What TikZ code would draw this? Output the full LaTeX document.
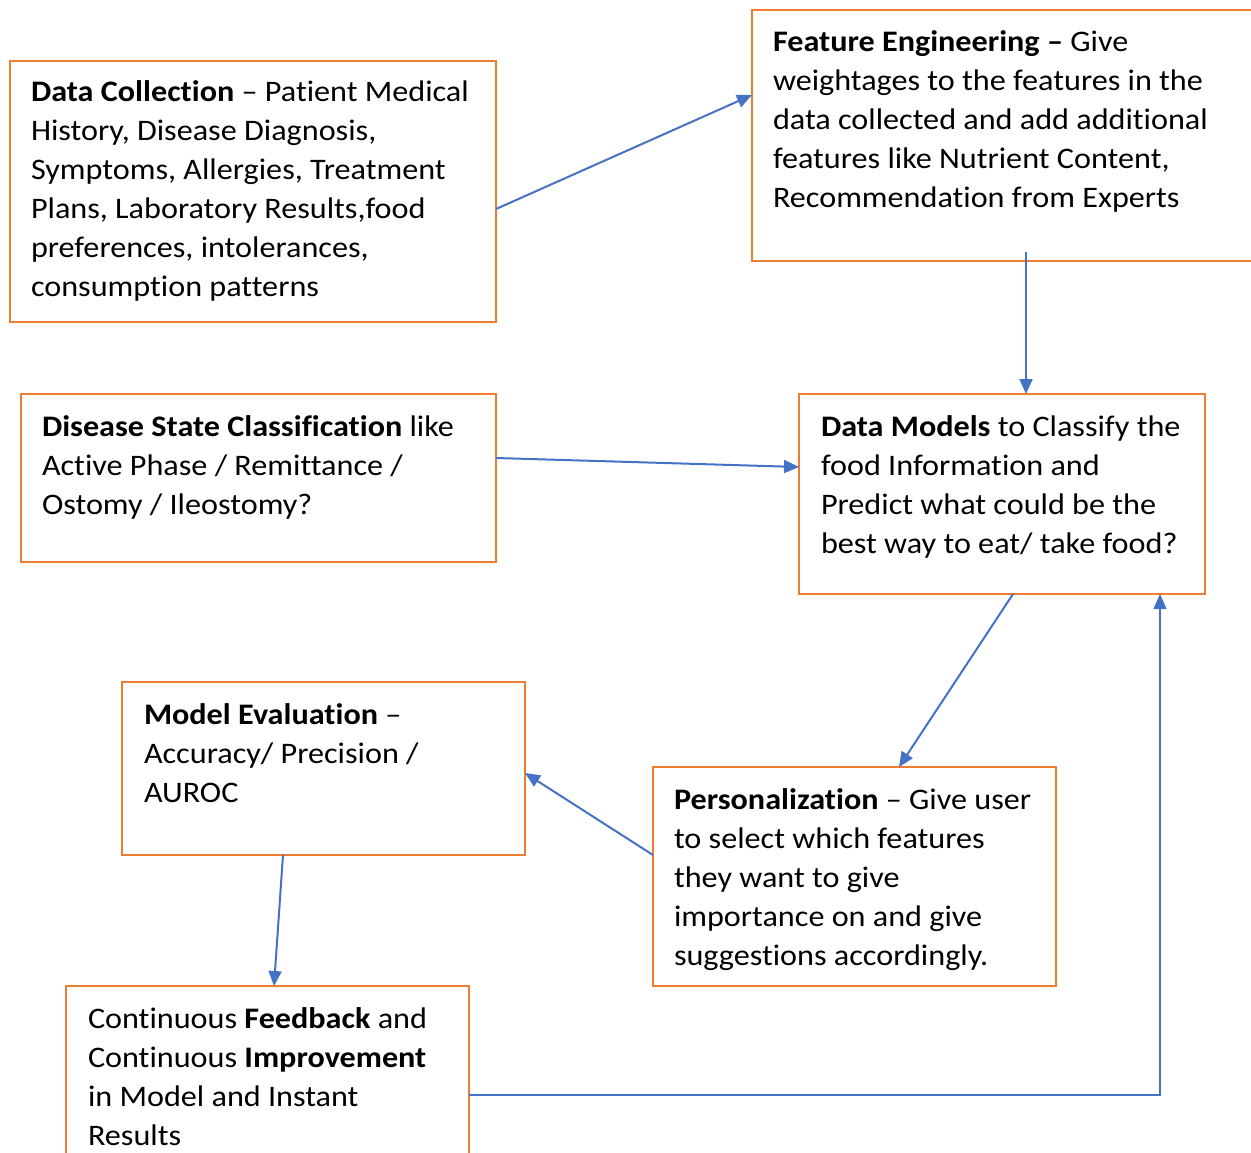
\documentclass[tikz,border=0pt]{standalone}
\usepackage{fontspec}
\setmainfont{Carlito}[FakeStretch=1.08,Ligatures=NoCommon]
\usetikzlibrary{arrows.meta}
\definecolor{boxorange}{HTML}{ED7D31}
\definecolor{arrblue}{HTML}{4472C4}
\newcommand{\mylines}[1]{\vtop{\baselineskip=39pt\lineskiplimit=-100pt\halign{##\hfil\cr#1\crcr}}}
\tikzset{
  flowbox/.style={draw=boxorange, line width=2pt, rectangle, inner sep=0pt, outer sep=0pt, anchor=north west, fill=white},
  boxtext/.style={anchor=base west, inner sep=0pt, outer sep=0pt, font=\fontsize{29.8}{39}\selectfont},
  flowarrow/.style={draw=arrblue, line width=2pt, -{Triangle[length=15pt,width=13pt]}},
  thinarrow/.style={draw=arrblue, line width=1.2pt, -{Triangle[length=15pt,width=13pt]}}
}
\begin{document}
\begin{tikzpicture}[x=1pt,y=-1pt]
\useasboundingbox (0,0) rectangle (1251,1153);
\clip (0,0) rectangle (1251,1153);
% boxes
\node[flowbox, minimum width=486pt, minimum height=261pt] (dc) at (10,61) {};
\node[flowbox, minimum width=520pt, minimum height=251pt] (fe) at (752,10) {};
\node[flowbox, minimum width=475pt, minimum height=168pt] (ds) at (21,394) {};
\node[flowbox, minimum width=406pt, minimum height=200pt] (dm) at (799,394) {};
\node[flowbox, minimum width=403pt, minimum height=173pt] (me) at (122,682) {};
\node[flowbox, minimum width=403pt, minimum height=219pt] (pe) at (653,767) {};
\node[flowbox, minimum width=403pt, minimum height=200pt] (cf) at (66,986) {};
% texts
\node[boxtext] (tdc) at (31,102) {\mylines{\textbf{Data Collection} – Patient Medical\cr History, Disease Diagnosis,\cr Symptoms, Allergies, Treatment\cr Plans, Laboratory Results,food\cr preferences, intolerances,\cr consumption patterns}};
\node[boxtext] (tfe) at (773,52) {\mylines{\textbf{Feature Engineering –} Give\cr weightages to the features in the\cr data collected and add additional\cr features like Nutrient Content,\cr Recommendation from Experts}};
\node[boxtext] (tds) at (42,436) {\mylines{\textbf{Disease State Classification} like\cr Active Phase / Remittance /\cr Ostomy / Ileostomy?}};
\node[boxtext] (tdm) at (821,436) {\mylines{\textbf{Data Models} to Classify the\cr food Information and\cr Predict what could be the\cr best way to eat/ take food?}};
\node[boxtext] (tme) at (144,724) {\mylines{\textbf{Model Evaluation} –\cr Accuracy/ Precision /\cr AUROC}};
\node[boxtext] (tpe) at (674,809) {\mylines{\textbf{Personalization} – Give user\cr to select which features\cr they want to give\cr importance on and give\cr suggestions accordingly.}};
\node[boxtext] (tcf) at (88,1028) {\mylines{Continuous \textbf{Feedback} and\cr Continuous \textbf{Improvement}\cr in Model and Instant\cr Results}};
% connectors
\coordinate (fes) at (1026,252);
\draw[flowarrow] (dc.east |- 0,209) -- (fe.west |- 0,95);
\draw[flowarrow] (fes) -- (dm.north -| fes);
\draw[flowarrow] (ds.east |- 0,458) -- (dm.west |- 0,467);
\draw[flowarrow] (dm.south -| 1013,0) -- (pe.north -| 899,0);
\draw[flowarrow] (pe.west |- 0,855) -- (me.east |- 0,773);
\draw[flowarrow] (me.south -| 283,0) -- (cf.north -| 274,0);
\draw[thinarrow] (cf.east |- 0,1095) -| (dm.south -| 1160,0);
\end{tikzpicture}
\end{document}
